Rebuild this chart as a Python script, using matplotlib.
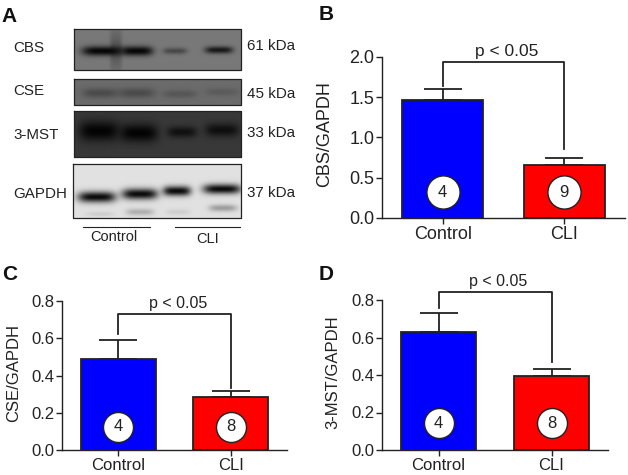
import numpy as np
import matplotlib
matplotlib.use('Agg')
import matplotlib.pyplot as plt

plt.rcParams['font.family'] = ['Liberation Sans', 'DejaVu Sans']

W, H = 628, 475

groups = ['Control', 'CLI']

# panel B
cbs_means = [1.46, 0.66]
cbs_err = [0.14, 0.09]
cbs_n = ['4', '9']
cbs_ticks = [0.0, 0.5, 1.0, 1.5, 2.0]

# panel C
cse_means = [0.49, 0.285]
cse_err = [0.10, 0.03]
cse_n = ['4', '8']

# panel D
mst_means = [0.63, 0.395]
mst_err = [0.10, 0.035]
mst_n = ['4', '8']
small_ticks = [0.0, 0.2, 0.4, 0.6, 0.8]

# western blot: label, kDa, bounding box in px, background, band strengths
blot_names = ['CBS', 'CSE', '3-MST', 'GAPDH']
blot_kda = ['61 kDa', '45 kDa', '33 kDa', '37 kDa']
blot_boxes = [(74, 29, 241, 70), (74, 79, 241, 105), (74, 111, 241, 157), (73, 164, 241, 218)]
blot_bg = [0.47, 0.42, 0.22, 0.88]
# band: centre x, centre y, half width, half height, darkness
blot_bands = [
    [(102, 51, 20, 4.8, 0.95), (137, 51, 16, 4.8, 0.95), (175, 51, 12, 3.2, 0.4), (219, 50, 14, 3.6, 0.8),
     (116, 50, 6, 20, 0.28)],
    [(100, 93, 18, 5, 0.3), (137, 93, 18, 5, 0.3), (180, 94, 17, 4, 0.2), (222, 92, 17, 4, 0.15)],
    [(99, 131, 20, 10, 0.95), (139, 133, 19, 9, 0.95), (182, 132, 15, 5.5, 0.7), (222, 130, 17, 6.5, 0.75)],
    [(97, 197, 19, 5.5, 0.95), (140, 194, 18, 5.5, 0.95), (177, 191, 14, 5, 0.95), (222, 189, 19, 5, 0.95),
     (140, 212, 14, 3.5, 0.22), (223, 208, 14, 3.5, 0.3), (100, 214, 14, 2.5, 0.08), (178, 212, 12, 3, 0.08)],
]


def axes_px(fig, left, top, right, bottom):
    return fig.add_axes([left / W, 1 - bottom / H, (right - left) / W, (bottom - top) / H])


def bar_panel(fig, box, means, errs, ns, ylabel, ymax, ticks, tick_fmt, bracket, circle_y, circle_s, ylabel_x, fs):
    ax = axes_px(fig, *box)
    ax.bar([0, 1], means, width=0.67, color=['#0000ff', '#ff0000'], edgecolor='#222222', linewidth=1.3, zorder=2)
    # only the upper whisker is shown
    ax.errorbar([0, 1], means, yerr=[[0, 0], errs], fmt='none', ecolor='#222222', elinewidth=1.3,
                capsize=14, capthick=1.3, zorder=1)
    ax.scatter([0, 1], [circle_y, circle_y], s=circle_s, c='white', edgecolors='#222222', linewidths=1, zorder=3)
    for x, n in zip([0, 1], ns):
        ax.text(x, circle_y, n, ha='center', va='center', fontsize=12, color='#222222', zorder=4)
    top, left_end, right_end = bracket
    ax.plot([0, 0, 1, 1], [left_end, top, top, right_end], color='#222222', lw=1.3, clip_on=False, zorder=1)
    ax.text(0.53, top + ymax * 0.018, 'p < 0.05', ha='center', va='bottom', fontsize=fs - 0.5, color='#222222', clip_on=False)
    ax.set_xlim(-0.5, 1.5)
    ax.set_ylim(0, ymax)
    ax.set_xticks([0, 1], groups)
    ax.set_yticks(ticks, [tick_fmt % t for t in ticks])
    ax.tick_params(axis='both', labelsize=fs, width=1, length=4, pad=1.5, color='#222222', labelcolor='#222222')
    ax.set_ylabel(ylabel, fontsize=fs, color='#222222')
    ax.yaxis.set_label_coords(ylabel_x, 0.52)
    ax.spines[['top', 'right']].set_visible(False)
    ax.spines[['left', 'bottom']].set_linewidth(1)
    ax.spines[['left', 'bottom']].set_color('#222222')
    return ax


fig = plt.figure(figsize=(W / 100, H / 100), dpi=100)

# panel A works in pixel coordinates
pa = fig.add_axes([0, 0, 1, 1], zorder=-1)
pa.set_xlim(0, W)
pa.set_ylim(H, 0)
pa.axis('off')

for name, kda, (x0, y0, x1, y1), bg, bands in zip(blot_names, blot_kda, blot_boxes, blot_bg, blot_bands):
    xs, ys = np.meshgrid(np.arange(x0, x1) + 0.5, np.arange(y0, y1) + 0.5)
    img = np.full(xs.shape, bg)
    for cx, cy, hw, hh, dark in bands:
        blob = np.exp(-((xs - cx) / hw) ** 4 - ((ys - cy) / hh) ** 2)
        img = img * (1 - dark * blob)
    pa.imshow(img, cmap='gray', vmin=0, vmax=1, extent=(x0, x1, y1, y0), aspect='auto', interpolation='bilinear')
    pa.plot([x0, x1, x1, x0, x0], [y0, y0, y1, y1, y0], color='#222222', lw=0.9)
    pa.text(13, (y0 + y1) / 2 + {'CBS': -1, 'CSE': -1, '3-MST': 1, 'GAPDH': 3}[name], name,
            fontsize=10.9, color='#222222', va='center')
    pa.text(247, (y0 + y1) / 2 + {'CBS': -3, 'CSE': 2, '3-MST': -1, 'GAPDH': 2}[name], kda,
            fontsize=10.9, color='#222222', va='center')
pa.set_xlim(0, W)
pa.set_ylim(H, 0)
pa.plot([83, 150], [227, 227], color='#222222', lw=0.8)
pa.plot([175, 240], [227, 227], color='#222222', lw=0.8)
pa.text(114, 237, 'Control', fontsize=10.5, color='#222222', ha='center', va='center')
pa.text(208, 239, 'CLI', fontsize=10.5, color='#222222', ha='center', va='center')

for letter, x, y in [('A', 1, 16), ('B', 319, 15), ('C', 2, 275), ('D', 319, 275)]:
    pa.text(x, y, letter, fontsize=15, fontweight='bold', color='#111111', va='center')

bar_panel(fig, (382, 57, 625, 218), cbs_means, cbs_err, cbs_n, 'CBS/GAPDH', 2.0, cbs_ticks, '%.1f',
          (1.94, 1.64, 0.857), 0.32, 570, -0.2, 13)
bar_panel(fig, (62, 301, 287, 450), cse_means, cse_err, cse_n, 'CSE/GAPDH', 0.8, small_ticks, '%.1f',
          (0.73, 0.625, 0.334), 0.125, 467, -0.182, 12)
bar_panel(fig, (382, 300, 608, 450), mst_means, mst_err, mst_n, '3-MST/GAPDH', 0.8, small_ticks, '%.1f',
          (0.845, 0.755, 0.47), 0.142, 467, -0.186, 12)

fig.savefig('out.png', dpi=100)
